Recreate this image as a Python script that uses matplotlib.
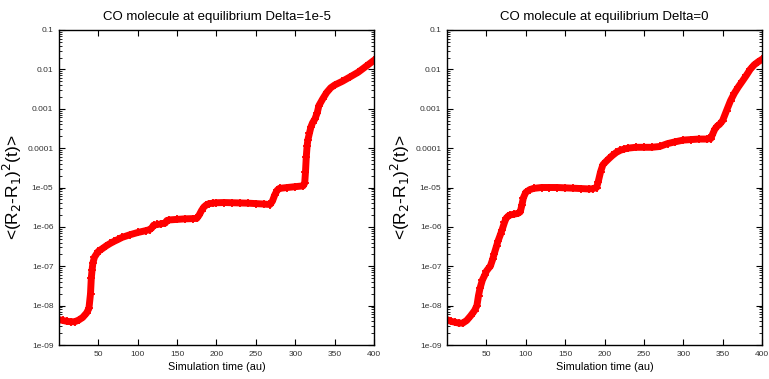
import matplotlib
matplotlib.use("Agg")
import matplotlib.pyplot as plt
from matplotlib.ticker import LogLocator, FixedLocator, NullFormatter

plt.rcParams['font.family'] = ['Liberation Sans', 'DejaVu Sans']

titles = ["CO molecule at equilibrium Delta=1e-5", "CO molecule at equilibrium Delta=0"]
xlabel = "Simulation time (au)"
ylabel = r"<(R$_2$-R$_1$)$^2$(t)>"
xticks = [50, 100, 150, 200, 250, 300, 350, 400]
yticks = [1e-9, 1e-8, 1e-7, 1e-6, 1e-5, 1e-4, 1e-3, 1e-2, 1e-1]
ytick_labels = ["1e-09", "1e-08", "1e-07", "1e-06", "1e-05", "0.0001", "0.001", "0.01", "0.1"]

t_a = [0, 5, 10, 15, 20, 25, 30, 35, 38, 40, 41, 42, 43, 45, 48, 50, 55, 60, 65, 70,
       75, 80, 90, 100, 110, 115, 118, 120, 125, 130, 135, 137, 140, 150, 160, 170,
       175, 178, 181, 184, 187, 190, 195, 200, 210, 220, 230, 240, 250, 260, 268,
       271, 274, 277, 280, 290, 300, 310, 312, 313, 314, 315, 316, 318, 320, 322,
       325, 328, 330, 335, 340, 345, 350, 360, 370, 380, 390, 400]
v_a = [4.4e-9, 4.2e-9, 4.0e-9, 3.9e-9, 3.9e-9, 4.3e-9, 5.0e-9, 6.5e-9, 8.5e-9, 2e-8,
       5e-8, 8e-8, 1.2e-7, 1.7e-7, 2.1e-7, 2.4e-7, 2.8e-7, 3.3e-7, 3.8e-7, 4.3e-7,
       4.8e-7, 5.4e-7, 6.3e-7, 7.2e-7, 8.0e-7, 8.5e-7, 9.5e-7, 1.1e-6, 1.15e-6, 1.2e-6,
       1.25e-6, 1.45e-6, 1.5e-6, 1.55e-6, 1.6e-6, 1.62e-6, 1.65e-6, 2.0e-6, 2.6e-6,
       3.2e-6, 3.6e-6, 3.85e-6, 4.0e-6, 4.1e-6, 4.15e-6, 4.1e-6, 4.05e-6, 4.0e-6,
       3.9e-6, 3.8e-6, 3.7e-6, 4.5e-6, 6.5e-6, 8.5e-6, 9.5e-6, 1.0e-5, 1.05e-5, 1.1e-5,
       1.3e-5, 2.5e-5, 6e-5, 1.1e-4, 1.6e-4, 2.4e-4, 3.5e-4, 4.4e-4, 5.5e-4, 8e-4,
       1.2e-3, 1.8e-3, 2.6e-3, 3.4e-3, 4.0e-3, 5.0e-3, 6.5e-3, 8.5e-3, 1.2e-2, 1.7e-2]

t_b = [0, 5, 10, 15, 20, 25, 30, 35, 38, 40, 42, 45, 48, 50, 53, 55, 58, 60, 63, 65,
       68, 70, 73, 75, 78, 80, 85, 90, 93, 95, 97, 100, 105, 110, 120, 130, 140, 150,
       160, 170, 180, 185, 190, 192, 195, 198, 202, 206, 210, 215, 220, 225, 230, 240,
       250, 260, 270, 280, 290, 300, 310, 320, 330, 335, 337, 340, 343, 346, 350, 355,
       360, 365, 370, 375, 380, 385, 390, 395, 400]
v_b = [4.4e-9, 4.0e-9, 3.8e-9, 3.6e-9, 3.6e-9, 4.2e-9, 5.5e-9, 7.5e-9, 1e-8, 1.8e-8,
       2.8e-8, 4.5e-8, 6e-8, 7.5e-8, 9e-8, 1.0e-7, 1.5e-7, 2.1e-7, 3.3e-7, 4.5e-7,
       6.5e-7, 8.5e-7, 1.3e-6, 1.65e-6, 1.9e-6, 2.0e-6, 2.1e-6, 2.2e-6, 2.4e-6, 3.5e-6,
       5.5e-6, 7.5e-6, 8.8e-6, 9.5e-6, 1.0e-5, 1.0e-5, 1.0e-5, 9.8e-6, 9.6e-6, 9.4e-6,
       9.2e-6, 9.3e-6, 1.0e-5, 1.4e-5, 2.5e-5, 3.8e-5, 4.6e-5, 5.5e-5, 6.5e-5, 7.8e-5,
       8.8e-5, 9.5e-5, 1.0e-4, 1.05e-4, 1.05e-4, 1.05e-4, 1.1e-4, 1.3e-4, 1.45e-4,
       1.6e-4, 1.65e-4, 1.7e-4, 1.7e-4, 1.75e-4, 2.2e-4, 3.0e-4, 3.6e-4, 4.0e-4, 5.0e-4,
       9e-4, 1.6e-3, 2.5e-3, 3.6e-3, 5.0e-3, 7.0e-3, 1.0e-2, 1.3e-2, 1.55e-2, 1.8e-2]

W, H = 769, 379
fig = plt.figure(figsize=(W / 100, H / 100), dpi=100)
lefts = [59, 447]
series = [(t_a, v_a), (t_b, v_b)]
for i in range(2):
    ax = fig.add_axes([lefts[i] / W, 1 - 345 / H, 315 / W, 315 / H])
    t, v = series[i]
    ax.plot(t, v, color='#ff0000', lw=5, marker='+', ms=6, mew=1.3)
    ax.set_yscale('log')
    ax.set_xlim(0, 400)
    ax.set_ylim(1e-9, 1e-1)
    ax.xaxis.set_major_locator(FixedLocator(xticks))
    ax.yaxis.set_major_locator(FixedLocator(yticks))
    ax.set_yticklabels(ytick_labels)
    ax.yaxis.set_minor_locator(LogLocator(base=10, subs=[2, 3, 4, 5, 6, 7, 8, 9], numticks=20))
    ax.yaxis.set_minor_formatter(NullFormatter())
    ax.tick_params(which='both', direction='in', top=True, right=True,
                   labelsize=6, labelcolor='#333333', pad=4)
    ax.tick_params(which='major', length=4, width=0.8)
    ax.tick_params(which='minor', length=2, width=0.6)
    for s in ax.spines.values():
        s.set_linewidth(1.0)
    ax.set_title(titles[i], fontsize=9.5, pad=7)
    ax.set_xlabel(xlabel, fontsize=7.8, labelpad=3)
    ax.set_ylabel(ylabel, fontsize=12.5)
    ax.yaxis.set_label_coords(-0.11, 0.5)

fig.savefig("out.png", dpi=100)
